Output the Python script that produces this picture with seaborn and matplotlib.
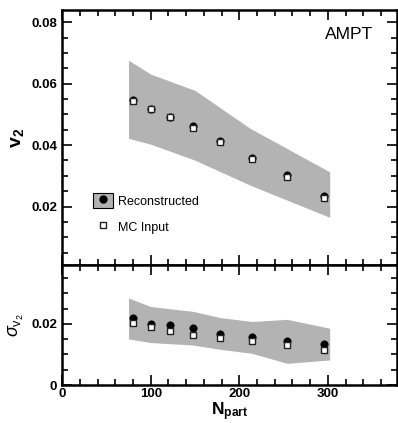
import numpy as np
import pandas as pd
import matplotlib
matplotlib.use("Agg")
import matplotlib.pyplot as plt
import seaborn as sns
from matplotlib.lines import Line2D
from matplotlib.patches import Patch
from matplotlib.ticker import MultipleLocator

# ---------- Data ----------
npart = [80, 100, 122, 148, 178, 214, 254, 296]

v2_reco = [0.0547, 0.0519, 0.0492, 0.0463, 0.0414, 0.0359, 0.0302, 0.0235]
v2_mc = [0.0545, 0.0517, 0.0490, 0.0455, 0.0410, 0.0355, 0.0295, 0.0228]

sig_reco = [0.0218, 0.0199, 0.0195, 0.0187, 0.0167, 0.0156, 0.0145, 0.0134]
sig_mc = [0.0204, 0.0191, 0.0178, 0.0164, 0.0155, 0.0145, 0.0131, 0.0115]

band_x = [75, 100, 150, 212, 302]
v2_band_hi = [0.0676, 0.0631, 0.0578, 0.0455, 0.0313]
v2_band_lo = [0.0422, 0.0403, 0.0351, 0.0270, 0.0165]

sig_band_x = [75, 100, 148, 178, 214, 254, 302]
sig_band_hi = [0.0285, 0.0257, 0.0241, 0.0221, 0.0208, 0.0215, 0.0186]
sig_band_lo = [0.0151, 0.0139, 0.0131, 0.0117, 0.0104, 0.0071, 0.0082]

df = pd.DataFrame({"Npart": npart, "v2_reco": v2_reco, "v2_mc": v2_mc,
                   "sig_reco": sig_reco, "sig_mc": sig_mc})

# ---------- Theme ----------
sns.set_style("ticks")
plt.rcParams["font.family"] = ["Liberation Sans", "DejaVu Sans"]
plt.rcParams["mathtext.fontset"] = "custom"
plt.rcParams["mathtext.rm"] = "Liberation Sans"
plt.rcParams["mathtext.bf"] = "Liberation Sans:bold"
plt.rcParams["mathtext.it"] = "Liberation Sans:italic"
plt.rcParams["text.color"] = "black"
plt.rcParams["axes.labelcolor"] = "black"

BAND = "#b3b3b3"

fig = plt.figure(figsize=(3.98, 4.23), dpi=100)
ax1 = fig.add_axes([0.156, 0.3735, 0.8415, 0.6025])
ax2 = fig.add_axes([0.156, 0.0898, 0.8415, 0.2837], sharex=ax1)

def draw(ax, bx, lo, hi, reco, mc):
    ax.fill_between(bx, lo, hi, color=BAND, lw=0, zorder=1)
    sns.scatterplot(data=df, x="Npart", y=reco, ax=ax, marker="o", s=28,
                    color="black", edgecolor="black", linewidth=0.5, zorder=3)
    sns.scatterplot(data=df, x="Npart", y=mc, ax=ax, marker="s", s=14,
                    facecolor="white", edgecolor="#222222", linewidth=1.0, zorder=4)

draw(ax1, band_x, v2_band_lo, v2_band_hi, "v2_reco", "v2_mc")
draw(ax2, sig_band_x, sig_band_lo, sig_band_hi, "sig_reco", "sig_mc")

ax1.set_xlim(0, 378)
ax1.set_ylim(0.001, 0.0839)
ax2.set_ylim(0, 0.0393)

for ax in (ax1, ax2):
    ax.xaxis.set_major_locator(MultipleLocator(100))
    ax.xaxis.set_minor_locator(MultipleLocator(20))
    ax.yaxis.set_major_locator(MultipleLocator(0.02))
    ax.yaxis.set_minor_locator(MultipleLocator(0.005))
    ax.tick_params(which="both", direction="in", top=True, right=True,
                   width=1.2, color="black", labelcolor="black")
    ax.tick_params(which="major", length=7, labelsize=9.5)
    ax.tick_params(which="minor", length=4)
    for s in ax.spines.values():
        s.set_linewidth(1.8)
        s.set_color("black")
    ax.set_xlabel("")
    ax.set_ylabel("")

ax1.tick_params(labelbottom=False)
ax2.tick_params(axis="x", pad=2.5)
ax1.set_yticks([0.02, 0.04, 0.06, 0.08])
ax1.set_yticklabels(["0.02", "0.04", "0.06", "0.08"], fontweight="bold")
ax2.set_yticks([0, 0.02])
ax2.set_yticklabels(["0", "0.02"], fontweight="bold")
ax2.set_xticks([0, 100, 200, 300])
ax2.set_xticklabels(["0", "100", "200", "300"], fontweight="bold")

ax1.set_ylabel(r"$\mathbf{v_2}$", fontsize=14, labelpad=4)
ax2.set_ylabel(r"$\sigma_{\mathrm{v}_2}$", fontsize=13, labelpad=4)
ax2.set_xlabel(r"$\mathbf{N_{part}}$", fontsize=12.5, labelpad=0)

ax1.text(0.93, 0.905, "AMPT", transform=ax1.transAxes, ha="right", va="center",
         fontsize=12.5)

handles = [
    (Patch(facecolor=BAND, edgecolor="black", linewidth=0.8),
     Line2D([], [], marker="o", color="black", ls="none", markersize=5)),
    Line2D([], [], marker="s", ls="none", markerfacecolor="white",
           markeredgecolor="#222222", markersize=4.5, markeredgewidth=1.0),
]
ax1.legend(handles, ["Reconstructed", "MC Input"], loc="lower left",
           bbox_to_anchor=(0.06, 0.075), frameon=False, fontsize=9,
           handlelength=1.6, handleheight=1.5, handletextpad=0.4,
           labelspacing=0.9)

plt.savefig("out.png", dpi=100)
plt.close()
